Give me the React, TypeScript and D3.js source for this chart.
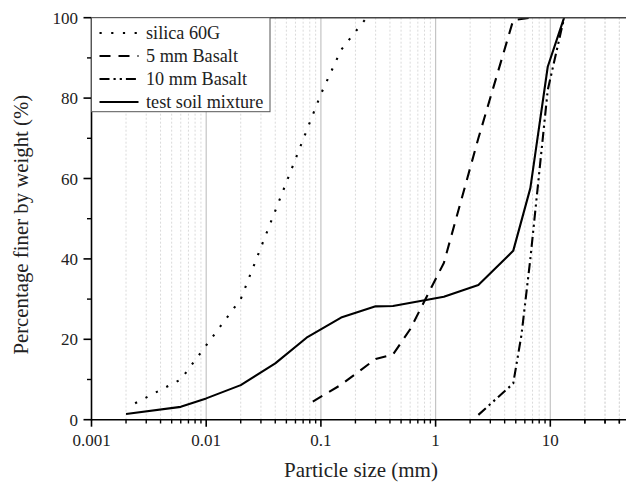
import React from "react";
import * as d3 from "d3";

const silicaSize = [0.0024, 0.006, 0.02, 0.1, 0.15, 0.25];
const silicaPct = [4.1, 10, 30, 81, 92, 100];

const basalt5Size = [0.085, 0.15, 0.3, 0.425, 0.6, 1.18, 2.36, 4.75, 6.7];
const basalt5Pct = [4.5, 8.7, 15.1, 16.2, 22.5, 39, 70, 99.4, 100];

const basalt10Size = [2.36, 4.75, 5.6, 6.7, 9.5, 13.2];
const basalt10Pct = [1.2, 9, 21, 40, 82, 100];

const mixSize = [0.002, 0.006, 0.01, 0.02, 0.04, 0.075, 0.15, 0.3, 0.425, 1.18, 2.36, 4.75, 6.7, 9.5, 13.2];
const mixPct = [1.4, 3.2, 5.3, 8.6, 14, 20.4, 25.4, 28.2, 28.3, 30.6, 33.5, 42, 57.6, 87.8, 100];

const seriesNames = ["silica 60G", "5 mm Basalt", "10 mm Basalt", "test soil mixture"];
const xTickLabels = ["0.001", "0.01", "0.1", "1", "10"];
const yTickValues = [0, 20, 40, 60, 80, 100];

const W = 626;
const H = 484;
const left = 91.5;
const top = 17.7;
const bottom = 419.7;
const decade = 114.7;

export default function App() {
  const x = d3.scaleLog().domain([0.001, 50]).range([left, left + Math.log10(50000) * decade]);
  const y = d3.scaleLinear().domain([0, 100]).range([bottom, top]);
  const right = x(50);

  const line = d3
    .line<[number, number]>()
    .x((d) => x(d[0]))
    .y((d) => y(d[1]));

  const zip = (a: number[], b: number[]) => a.map((v, i) => [v, b[i]] as [number, number]);

  const series = [
    { name: seriesNames[0], data: zip(silicaSize, silicaPct), dash: "2.2 9.5" },
    { name: seriesNames[1], data: zip(basalt5Size, basalt5Pct), dash: "11 8" },
    { name: seriesNames[2], data: zip(basalt10Size, basalt10Pct), dash: "10 4 2.2 4 2.2 4" },
    { name: seriesNames[3], data: zip(mixSize, mixPct), dash: "none" },
  ];

  const majors = [0.001, 0.01, 0.1, 1, 10];
  const minors: number[] = [];
  for (const m of majors) {
    for (let k = 2; k <= 9; k++) {
      const v = m * k;
      if (v <= 50) minors.push(v);
    }
  }
  minors.push(20, 30, 40, 50);
  const yMinor = [10, 30, 50, 70, 90];

  const font = "'Liberation Serif', 'Times New Roman', serif";

  return (
    <svg width={W} height={H} style={{ position: "absolute", left: 0, top: 0 }} fontFamily={font}>
      <rect x={0} y={0} width={W} height={H} fill="#fff" />
      <defs>
        <clipPath id="plot">
          <rect x={left} y={top - 2} width={right - left} height={bottom - top + 2} />
        </clipPath>
      </defs>
      {minors.map((v, i) => (
        <line key={"mg" + i} x1={x(v)} x2={x(v)} y1={top} y2={bottom} stroke="#dadada" strokeWidth={1} strokeDasharray="2 2" />
      ))}
      {majors.slice(1).map((v, i) => (
        <line key={"Mg" + i} x1={x(v)} x2={x(v)} y1={top} y2={bottom} stroke="#c4c4c4" strokeWidth={1.2} />
      ))}
      <g clipPath="url(#plot)">
        {series.map((s, i) => (
          <path
            key={"s" + i}
            d={line(s.data) || ""}
            fill="none"
            stroke="#000"
            strokeWidth={2.1}
            strokeDasharray={s.dash}
            strokeLinejoin="round"
          />
        ))}
      </g>
      <line x1={left} x2={W} y1={top} y2={top} stroke="#444" strokeWidth={1.6} />
      <line x1={left} x2={left} y1={top} y2={bottom + 0.8} stroke="#000" strokeWidth={1.6} />
      <line x1={left} x2={W} y1={bottom} y2={bottom} stroke="#000" strokeWidth={1.6} />
      {majors.map((v, i) => (
        <g key={"xt" + i}>
          <line x1={x(v)} x2={x(v)} y1={bottom} y2={bottom + 7} stroke="#000" strokeWidth={1.6} />
          <text x={x(v)} y={446} textAnchor="middle" fontSize={17} fill="#222">
            {xTickLabels[i]}
          </text>
        </g>
      ))}
      {minors.map((v, i) => (
        <line key={"xm" + i} x1={x(v)} x2={x(v)} y1={bottom} y2={bottom + 3.8} stroke="#000" strokeWidth={1.4} />
      ))}
      {yTickValues.map((v, i) => (
        <g key={"yt" + i}>
          <line x1={left - 8} x2={left} y1={y(v)} y2={y(v)} stroke="#000" strokeWidth={1.6} />
          <text x={78} y={y(v) + 6} textAnchor="end" fontSize={17} fill="#222">
            {v}
          </text>
        </g>
      ))}
      {yMinor.map((v, i) => (
        <line key={"ym" + i} x1={left - 4.5} x2={left} y1={y(v)} y2={y(v)} stroke="#000" strokeWidth={1.4} />
      ))}
      <rect x={left} y={top} width={178.5} height={94} fill="#fff" stroke="#555" strokeWidth={1} />
      {series.map((s, i) => {
        const cy = 33 + i * 23;
        return (
          <g key={"lg" + i}>
            <line x1={99.5} x2={138.5} y1={cy} y2={cy} stroke="#000" strokeWidth={2.1} strokeDasharray={s.dash} />
            <text x={146} y={cy + 6} fontSize={18.2} fill="#222">
              {s.name}
            </text>
          </g>
        );
      })}
      <text x={(left + right) / 2} y={477} textAnchor="middle" fontSize={21} fill="#222">
        Particle size (mm)
      </text>
      <text
        transform={`translate(28, ${(top + bottom) / 2 + 6}) rotate(-90)`}
        textAnchor="middle"
        fontSize={20.8}
        fill="#222"
      >
        Percentage finer by weight (%)
      </text>
    </svg>
  );
}
